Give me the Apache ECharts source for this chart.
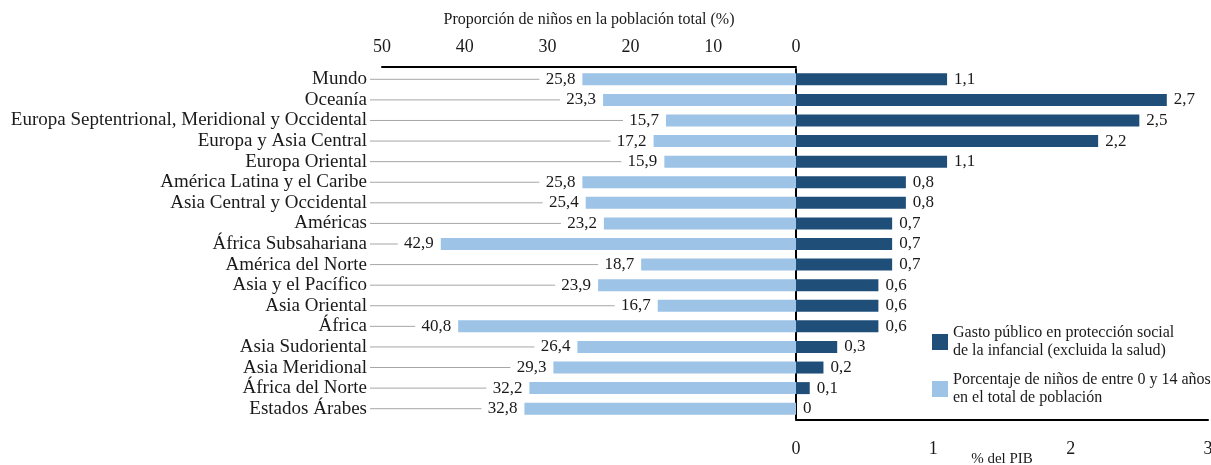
<!DOCTYPE html>
<html>
<head>
<meta charset="utf-8">
<style>
  html, body { margin: 0; padding: 0; background: #fff; }
  #chart { width: 1211px; height: 465px; }
</style>
<script src="https://cdn.jsdelivr.net/npm/echarts@6/dist/echarts.min.js"></script>
</head>
<body>
<div id="chart"></div>
<script>
// regiones (de arriba abajo)
var regiones = [
  'Mundo', 'Oceanía', 'Europa Septentrional, Meridional y Occidental',
  'Europa y Asia Central', 'Europa Oriental', 'América Latina y el Caribe',
  'Asia Central y Occidental', 'Américas', 'África Subsahariana',
  'América del Norte', 'Asia y el Pacífico', 'Asia Oriental', 'África',
  'Asia Sudoriental', 'Asia Meridional', 'África del Norte', 'Estados Árabes'
];
// % de niños 0-14 en la población total
var ninos = [25.8, 23.3, 15.7, 17.2, 15.9, 25.8, 25.4, 23.2, 42.9, 18.7, 23.9, 16.7, 40.8, 26.4, 29.3, 32.2, 32.8];
// gasto público en protección social de la infancia (% del PIB)
var gasto = [1.1, 2.7, 2.5, 2.2, 1.1, 0.8, 0.8, 0.7, 0.7, 0.7, 0.6, 0.6, 0.6, 0.3, 0.2, 0.1, 0];

var ticksNinos = [0, 10, 20, 30, 40, 50];
var ticksPib = [0, 1, 2, 3];

var nombreGasto = 'Gasto público en protección social\nde la infancial (excluida la salud)';
var nombreNinos = 'Porcentaje de niños de entre 0 y 14 años\nen el total de población';

var FONT = 'Liberation Serif';
var TXT = '#1a1a1a';

function coma(v) { return String(v).replace('.', ','); }

var chart = echarts.init(document.getElementById('chart'));

var option = {
  animation: false,
  textStyle: { fontFamily: FONT, color: TXT },
  legend: {
    orient: 'vertical',
    left: 927,
    top: 319,
    itemWidth: 16,
    itemHeight: 16,
    itemGap: 11,
    icon: 'rect',
    data: [nombreGasto, nombreNinos],
    textStyle: { fontFamily: FONT, fontSize: 16, color: TXT, lineHeight: 18 }
  },
  grid: [
    { left: 382, right: 415, top: 69, bottom: 46, containLabel: false, outerBoundsMode: 'none' },
    { left: 796, right: 3, top: 69, bottom: 46, containLabel: false, outerBoundsMode: 'none' }
  ],
  xAxis: [
    {
      gridIndex: 0, type: 'value', position: 'top', inverse: true, offset: 2,
      min: ticksNinos[0], max: ticksNinos[ticksNinos.length - 1], interval: 10,
      name: 'Proporción de niños en la población total (%)',
      nameLocation: 'middle', nameGap: 39, nameMoveOverlap: false,
      nameTextStyle: { fontFamily: FONT, fontSize: 16, color: TXT },
      axisLine: { show: true, lineStyle: { color: '#000', width: 2 } },
      axisTick: { show: false },
      splitLine: { show: false },
      axisLabel: { fontFamily: FONT, fontSize: 18, color: TXT, margin: 11 }
    },
    {
      gridIndex: 1, type: 'value', position: 'bottom', offset: 1,
      min: ticksPib[0], max: ticksPib[ticksPib.length - 1], interval: 1,
      name: '% del PIB',
      nameLocation: 'middle', nameGap: 32, nameMoveOverlap: false,
      nameTextStyle: { fontFamily: FONT, fontSize: 15, color: TXT },
      axisLine: { show: true, lineStyle: { color: '#000', width: 2 } },
      axisTick: { show: false },
      splitLine: { show: false },
      axisLabel: { fontFamily: FONT, fontSize: 18, color: TXT, margin: 20 }
    }
  ],
  yAxis: [
    {
      gridIndex: 0, type: 'category', inverse: true, data: regiones,
      axisLine: { show: false },
      axisTick: { show: false },
      axisLabel: { interval: 0, fontFamily: FONT, fontSize: 19, color: TXT, margin: 15 }
    },
    {
      gridIndex: 1, type: 'category', inverse: true, data: regiones,
      axisLine: { show: true, lineStyle: { color: '#000', width: 2 } },
      axisTick: { show: false },
      axisLabel: { show: false }
    }
  ],
  series: [
    {
      // líneas guía grises entre la región y la etiqueta
      type: 'custom',
      xAxisIndex: 0, yAxisIndex: 0,
      silent: true,
      data: ninos.map(function (v, i) { return [v, i]; }),
      encode: { x: 0, y: 1 },
      renderItem: function (params, api) {
        var fin = api.coord([api.value(0), api.value(1)]);
        var ini = api.coord([50, api.value(1)]);
        return {
          type: 'line',
          shape: { x1: ini[0] - 12, y1: fin[1], x2: fin[0] - 43, y2: fin[1] },
          style: { stroke: '#a6a6a6', lineWidth: 1 }
        };
      }
    },
    {
      name: nombreNinos,
      type: 'bar',
      xAxisIndex: 0, yAxisIndex: 0,
      data: ninos,
      barWidth: 12,
      itemStyle: { color: '#9dc3e6' },
      label: {
        show: true, position: 'left', distance: 7,
        fontFamily: FONT, fontSize: 17, color: TXT,
        formatter: function (p) { return coma(p.value); }
      }
    },
    {
      name: nombreGasto,
      type: 'bar',
      xAxisIndex: 1, yAxisIndex: 1,
      data: gasto,
      barWidth: 12,
      itemStyle: { color: '#1f4e79' },
      label: {
        show: true, position: 'right', distance: 7,
        fontFamily: FONT, fontSize: 17, color: TXT,
        formatter: function (p) { return coma(p.value); }
      }
    }
  ]
};

chart.setOption(option);
</script>
</body>
</html>
